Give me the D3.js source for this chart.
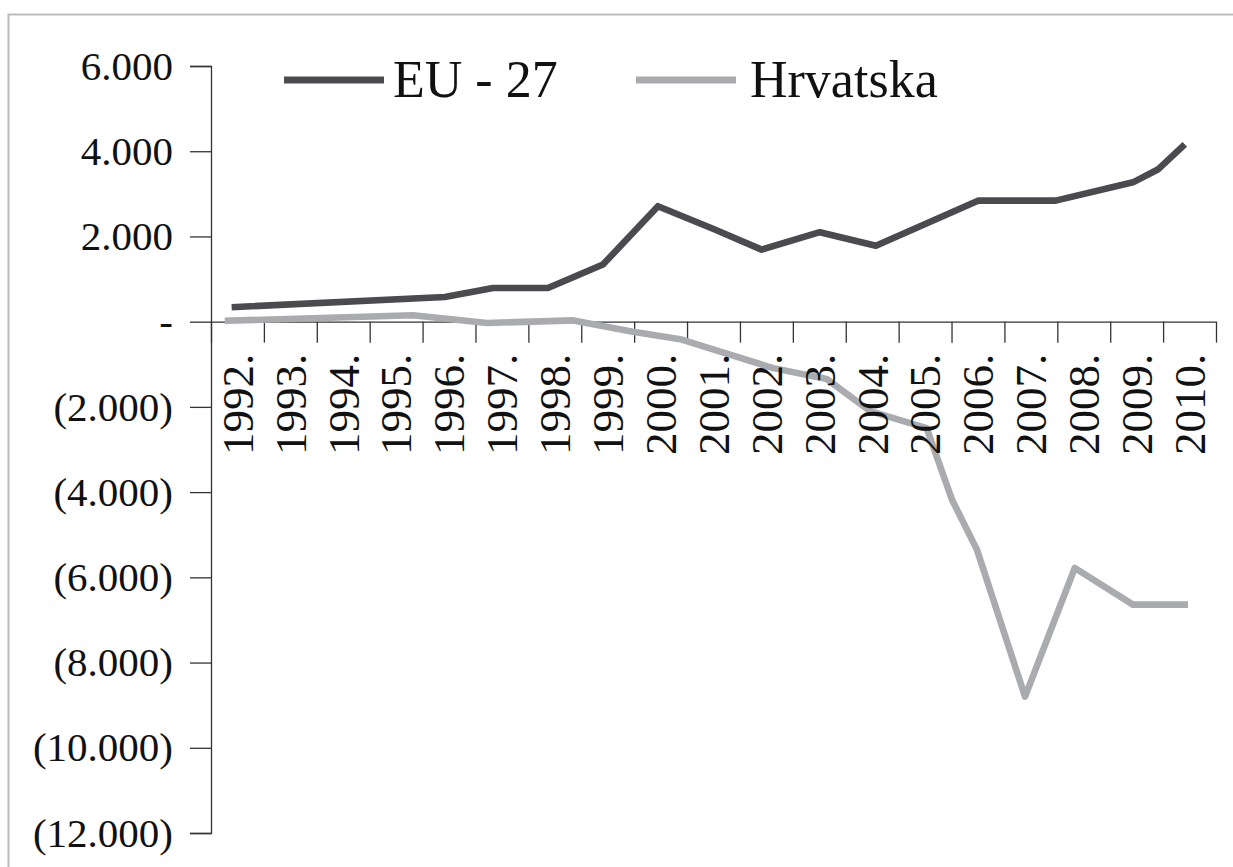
<!DOCTYPE html>
<html>
<head>
<meta charset="utf-8">
<script src="https://cdn.jsdelivr.net/npm/d3@7"></script>
<style>
  html, body { margin: 0; padding: 0; background: #fff; }
  svg { display: block; }
  text { font-family: "Liberation Serif", "Times New Roman", serif; fill: #111; }
</style>
</head>
<body>
<svg id="chart" width="1233" height="867"></svg>
<script>
// ---- data ----
const years = [1992, 1993, 1994, 1995, 1996, 1997, 1998, 1999, 2000, 2001,
               2002, 2003, 2004, 2005, 2006, 2007, 2008, 2009, 2010];
const yearLabels = years.map(y => y + ".");
const yTicks = [6000, 4000, 2000, 0, -2000, -4000, -6000, -8000, -10000, -12000];

const seriesNames = ["EU - 27", "Hrvatska"];

// EU - 27 : positions along the year axis and values
const euX = [1991.89, 1995.92, 1996.83, 1997.87, 1998.91, 1999.95, 2000.99, 2001.91,
             2003.01, 2004.07, 2006.00, 2007.47, 2008.93, 2009.40, 2009.91];
const euV = [340, 580, 790, 790, 1340, 2710, 2180, 1690,
             2100, 1780, 2840, 2840, 3270, 3570, 4160];

// Hrvatska
const hrX = [1991.76, 1995.32, 1996.72, 1998.35, 1999.45, 2000.40, 2002.13, 2003.14,
             2003.96, 2005.03, 2005.51, 2005.98, 2006.89, 2007.83, 2008.93, 2009.97];
const hrV = [20, 150, -30, 30, -230, -420, -1090, -1345,
             -2100, -2500, -4180, -5350, -8800, -5780, -6640, -6640];

// ---- drawing ----
const svg = d3.select("#chart");
const colors = ["#4b4a4f", "#aaabaf"];

// outer frame (only top/left visible)
svg.append("rect")
  .attr("x", 8.5).attr("y", 14.5)
  .attr("width", 1300).attr("height", 900)
  .attr("fill", "none").attr("stroke", "#bcbcbf").attr("stroke-width", 2);

const x = d3.scaleLinear().domain([years[0] - 0.5, years[years.length - 1] + 0.5]).range([211, 1216]);
const y = d3.scaleLinear().domain([-12000, 6000]).range([833, 66]);

function fmt(v) {
  if (v === 0) return "-";
  const s = d3.format(",")(Math.abs(v)).replace(/,/g, ".");
  return v < 0 ? "(" + s + ")" : s;
}

// y axis
const yAxis = svg.append("g")
  .attr("transform", "translate(211,0)")
  .call(d3.axisLeft(y).tickValues(yTicks).tickFormat(fmt).tickSize(21).tickPadding(17));
yAxis.selectAll("line, path").attr("stroke", "#333").attr("stroke-width", 1.3);
yAxis.selectAll("text").attr("font-size", 41).attr("font-family", "Liberation Serif").attr("fill", "#111");

// x axis line + boundary ticks (no labels)
const bounds = d3.range(years.length + 1).map(i => years[0] - 0.5 + i);
const xAxis = svg.append("g")
  .attr("transform", `translate(0,${y(0)})`)
  .call(d3.axisBottom(x).tickValues(bounds).tickFormat("").tickSize(21).tickSizeOuter(0));
xAxis.selectAll("line, path").attr("stroke", "#333").attr("stroke-width", 1.3);

// lines
const line = d3.line().x(d => x(d[0])).y(d => y(d[1]));
const euData = euX.map((v, i) => [v, euV[i]]);
const hrData = hrX.map((v, i) => [v, hrV[i]]);

svg.append("path").datum(euData)
  .attr("d", line).attr("fill", "none")
  .attr("stroke", colors[0]).attr("stroke-width", 6.6)
  .attr("stroke-linejoin", "round");
svg.append("path").datum(hrData)
  .attr("d", line).attr("fill", "none")
  .attr("stroke", colors[1]).attr("stroke-width", 6.6)
  .attr("stroke-linejoin", "round");

// x labels (on top of lines)
const xLab = svg.append("g")
  .attr("transform", `translate(0,${y(0)})`)
  .call(d3.axisBottom(x).tickValues(years).tickFormat((d, i) => yearLabels[i]).tickSize(0).tickPadding(0));
xLab.select(".domain").remove();
xLab.selectAll("text")
  .attr("font-size", 45).attr("font-family", "Liberation Serif").attr("fill", "#111")
  .attr("text-anchor", "end")
  .attr("transform", "translate(0,32) rotate(-90)")
  .attr("x", 0).attr("y", 0).attr("dy", "0.33em");

// legend
const legend = svg.append("g");
const legItems = [
  { name: seriesNames[0], x1: 284, x2: 384, tx: 393 },
  { name: seriesNames[1], x1: 636, x2: 736, tx: 750 }
];
legItems.forEach((it, i) => {
  legend.append("line")
    .attr("x1", it.x1).attr("x2", it.x2).attr("y1", 80).attr("y2", 80)
    .attr("stroke", colors[i]).attr("stroke-width", 7);
  legend.append("text")
    .attr("x", it.tx).attr("y", 97)
    .attr("font-size", 52)
    .text(it.name);
});
</script>
</body>
</html>
